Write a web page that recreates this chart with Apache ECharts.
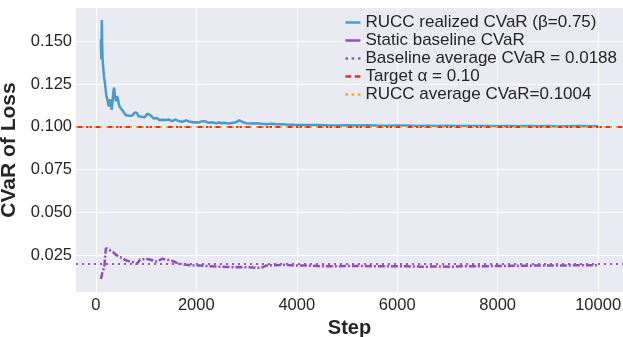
<!DOCTYPE html>
<html><head><meta charset="utf-8">
<script src="https://cdn.jsdelivr.net/npm/echarts@6/dist/echarts.min.js"></script>
<style>html,body{margin:0;padding:0;background:#fff}#c{width:623px;height:337px}</style>
</head><body><div id="c"></div>
<script>
const ruccSteps = [100,105,110,115,120,125,130,140,150,165,180,195,210,225,240,255,270,285,300,315,330,350,365,380,400,420,440,460,480,500,520,545,570,600,630,660,690,720,750,780,800,820,850,880,910,940,970,1000,1030,1060,1090,1120,1150,1180,1210,1240,1270,1300,1330,1360,1390,1420,1450,1480,1510,1550,1590,1630,1670,1710,1750,1800,1850,1900,1950,2000,2050,2100,2150,2200,2250,2300,2350,2400,2450,2500,2550,2600,2650,2700,2750,2800,2850,2900,2950,3000,3100,3200,3300,3400,3500,3600,3700,3800,3900,4000,4200,4400,4600,4800,5000,5200,5400,5600,5800,6000,6200,6400,6600,6800,7000,7200,7400,7600,7800,8000,8200,8400,8600,8800,9000,9200,9400,9600,9800,10000];
const ruccValues = [0.1513,0.1450,0.1395,0.1480,0.1625,0.1500,0.1420,0.1370,0.1340,0.1290,0.1260,0.1220,0.1180,0.1190,0.1150,0.1120,0.1115,0.1160,0.1140,0.1100,0.1140,0.1210,0.1230,0.1180,0.1150,0.1180,0.1165,0.1130,0.1115,0.1120,0.1100,0.1095,0.1080,0.1068,0.1072,0.1065,0.1072,0.1066,0.1070,0.1085,0.1096,0.1080,0.1062,0.1068,0.1060,0.1063,0.1056,0.1062,0.1078,0.1076,0.1068,0.1062,0.1050,0.1046,0.1052,0.1046,0.1040,0.1036,0.1042,0.1036,0.1040,0.1048,0.1044,0.1036,0.1034,0.1038,0.1044,0.1036,0.1034,0.1030,0.1033,0.1038,0.1032,0.1030,0.1026,0.1028,0.1026,0.1032,0.1034,0.1030,0.1024,0.1027,0.1024,0.1022,0.1026,0.1022,0.1024,0.1022,0.1020,0.1023,0.1024,0.1030,0.1038,0.1032,0.1026,0.1022,0.1020,0.1022,0.1018,0.1016,0.1018,0.1015,0.1016,0.1014,0.1013,0.1012,0.1011,0.1012,0.1010,0.1009,0.1010,0.1008,0.1010,0.1008,0.1007,0.1009,0.1008,0.1006,0.1007,0.1006,0.1007,0.1005,0.1006,0.1005,0.1006,0.1004,0.1005,0.1004,0.1005,0.1004,0.1005,0.1003,0.1004,0.1005,0.1004,0.1004];
const baseSteps = [100,115,130,150,170,190,200,220,240,270,300,345,400,450,500,550,610,680,742,808,850,880,950,1007,1070,1140,1200,1239,1280,1320,1405,1480,1537,1600,1670,1750,1803,1900,2068,2200,2400,2600,2730,2850,2996,3194,3300,3393,3550,3724,3900,4056,4300,4500,4800,5000,5300,5600,5900,6200,6500,6800,7100,7400,7700,8000,8300,8600,8900,9200,9500,9800,10000];
const baseValues = [0.0110,0.0125,0.0150,0.0165,0.0185,0.0190,0.0290,0.0295,0.0285,0.0288,0.0275,0.0267,0.0252,0.0242,0.0236,0.0228,0.0218,0.0212,0.0208,0.0199,0.0210,0.0224,0.0226,0.0228,0.0224,0.0218,0.0212,0.0208,0.0222,0.0228,0.0224,0.0220,0.0214,0.0206,0.0199,0.0195,0.0193,0.0190,0.0189,0.0186,0.0183,0.0181,0.0179,0.0180,0.0179,0.0175,0.0176,0.0189,0.0191,0.0193,0.0190,0.0189,0.0188,0.0184,0.0185,0.0186,0.0186,0.0185,0.0184,0.0184,0.0182,0.0183,0.0182,0.0185,0.0185,0.0186,0.0187,0.0188,0.0189,0.0189,0.0190,0.0190,0.0190];
const baselineAvg = 0.0188;
const targetAlpha = 0.10;
const ruccAvg = 0.1004;
const xTicks = [0,2000,4000,6000,8000,10000];
const yTicks = [0.025,0.050,0.075,0.100,0.125,0.150];
const names = ['RUCC realized CVaR (β=0.75)','Static baseline CVaR','Baseline average CVaR = 0.0188','Target α = 0.10','RUCC average CVaR=0.1004'];

const zip = (a,b)=>a.map((v,i)=>[v,b[i]]);
const solidIcon = 'path://M0,0h15v2.5h-15z';
const dotIcon = 'path://M0,0h2.5v2.5h-2.5zM6,0h2.5v2.5h-2.5zM12,0h2.5v2.5h-2.5z';
const dashIcon = 'path://M0,0h5.5v2.5h-5.5zM9,0h5.5v2.5h-5.5z';
const txt = '#262626';
const font = 'Liberation Sans, Arial, sans-serif';

const chart = echarts.init(document.getElementById('c'), null, {renderer:'canvas'});
chart.setOption({
  animation:false,
  backgroundColor:'#fff',
  grid:{left:76,right:0,top:8,bottom:45,backgroundColor:'#EAEAF2',show:true,borderWidth:0,outerBoundsMode:'none',containLabel:false},
  legend:{
    orient:'vertical', right:1, top:9, itemGap:1, itemWidth:15, itemHeight:14, align:'left',
    textStyle:{fontSize:17,color:txt,fontFamily:font},
    itemStyle:{borderWidth:0},
    data:[
      {name:names[0],icon:solidIcon},
      {name:names[1],icon:solidIcon},
      {name:names[2],icon:dotIcon},
      {name:names[3],icon:dashIcon},
      {name:names[4],icon:dotIcon}
    ]
  },
  xAxis:{
    type:'value', min:-395, max:10495,
    name:'Step', nameLocation:'middle', nameGap:24,
    nameTextStyle:{fontSize:20,fontWeight:'bold',color:txt,fontFamily:font},
    axisLine:{show:false}, axisTick:{show:false, customValues:xTicks},
    axisLabel:{customValues:xTicks, fontSize:16.5, color:txt, fontFamily:font, margin:5, formatter:v=>String(v)},
    splitLine:{show:true,lineStyle:{color:'#fff',width:1}}
  },
  yAxis:{
    type:'value', min:0.0034, max:0.1696,
    name:'CVaR of Loss', nameLocation:'middle', nameGap:51,
    nameTextStyle:{fontSize:21,fontWeight:'bold',color:txt,fontFamily:font},
    axisLine:{show:false}, axisTick:{show:false, customValues:yTicks},
    axisLabel:{customValues:yTicks, fontSize:16.5, color:txt, fontFamily:font, margin:4, formatter:v=>v.toFixed(3)},
    splitLine:{show:true,lineStyle:{color:'#fff',width:1}}
  },
  series:[
    {name:names[0],type:'line',data:zip(ruccSteps,ruccValues),showSymbol:false,color:'#4b9bc7',
     lineStyle:{width:2.5,color:'#4b9bc7'},z:3},
    {name:names[1],type:'line',data:zip(baseSteps,baseValues),showSymbol:false,color:'#8e4fb8',
     lineStyle:{width:2.5,color:'#8e4fb8',type:[7,2,2,2]},z:3},
    {name:names[2],type:'line',data:[],color:'#9b59b6',
     markLine:{silent:true,symbol:'none',label:{show:false},lineStyle:{color:'#9b59b6',width:2,type:[2,4]},data:[{yAxis:baselineAvg}]},z:2},
    {name:names[3],type:'line',data:[],color:'#e8302a',
     markLine:{silent:true,symbol:'none',label:{show:false},lineStyle:{color:'#e8302a',width:2,type:[6,4]},data:[{yAxis:targetAlpha}]},z:4},
    {name:names[4],type:'line',data:[],color:'#f5a623',
     markLine:{silent:true,symbol:'none',label:{show:false},lineStyle:{color:'#f5a623',width:2,type:[2,4]},data:[{yAxis:ruccAvg}]},z:5}
  ]
});
</script></body></html>
